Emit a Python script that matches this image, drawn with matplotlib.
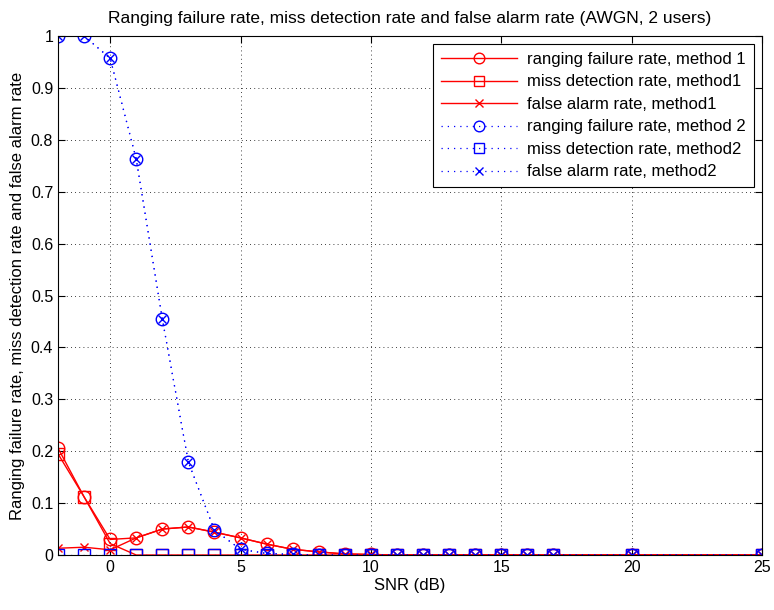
import matplotlib
matplotlib.use('Agg')
import matplotlib.pyplot as plt
import numpy as np

plt.rcParams['font.family'] = ['Liberation Sans', 'DejaVu Sans']

# SNR points (dB)
snr = [-2, -1, 0, 1, 2, 3, 4, 5, 6, 7, 8, 9, 10, 11, 12, 13, 14, 15, 16, 17, 20, 25]

# method 1
rfr_m1 = [0.206, 0.112, 0.030, 0.033, 0.050, 0.054, 0.044, 0.033, 0.021, 0.011, 0.006, 0.002,
          0.001, 0, 0, 0, 0, 0, 0, 0, 0, 0]
mdr_m1 = [0.195, 0.112, 0.022, 0, 0, 0, 0, 0, 0, 0, 0, 0,
          0, 0, 0, 0, 0, 0, 0, 0, 0, 0]
far_m1 = [0.013, 0.015, 0.010, 0.033, 0.050, 0.054, 0.044, 0.033, 0.021, 0.011, 0.006, 0.002,
          0.001, 0, 0, 0, 0, 0, 0, 0, 0, 0]

# method 2
rfr_m2 = [1.0, 1.0, 0.957, 0.763, 0.455, 0.179, 0.048, 0.011, 0.003, 0.001, 0, 0,
          0, 0, 0, 0, 0, 0, 0, 0, 0, 0]
mdr_m2 = [0] * len(snr)
far_m2 = [1.0, 1.0, 0.957, 0.763, 0.455, 0.179, 0.048, 0.011, 0.003, 0.001, 0, 0,
          0, 0, 0, 0, 0, 0, 0, 0, 0, 0]

fig = plt.figure(figsize=(7.74, 6.10), dpi=100)
ax = fig.add_axes([58 / 774, 55 / 610, 704 / 774, 519 / 610])

ms = 9
dots = (0, (1, 4))
ax.plot(snr, rfr_m1, '-', color='red', marker='o', mfc='none', ms=ms, lw=1,
        label='ranging failure rate, method 1')
ax.plot(snr, mdr_m1, '-', color='red', marker='s', mfc='none', ms=ms - 1, lw=1,
        label='miss detection rate, method1')
ax.plot(snr, far_m1, '-', color='red', marker='x', ms=ms - 3, lw=1,
        label='false alarm rate, method1')
ax.plot(snr, rfr_m2, linestyle=dots, color='blue', marker='o', mfc='none', ms=ms, lw=0.9,
        label='ranging failure rate, method 2')
ax.plot(snr, mdr_m2, linestyle=dots, color='blue', marker='s', mfc='none', ms=ms - 1, lw=0.9,
        label='miss detection rate, method2')
ax.plot(snr, far_m2, linestyle=dots, color='blue', marker='x', ms=ms - 3, lw=0.9,
        label='false alarm rate, method2')

ax.set_xlim(-2, 25)
ax.set_ylim(0, 1)
ax.set_xticks([0, 5, 10, 15, 20, 25])
ax.set_yticks(np.arange(0, 1.01, 0.1))
ax.set_yticklabels(['0', '0.1', '0.2', '0.3', '0.4', '0.5', '0.6', '0.7', '0.8', '0.9', '1'])
ax.tick_params(direction='in', labelsize=11.5, top=True, right=True, length=5)
ax.grid(True, linestyle=(0, (1, 4)), color='black', lw=0.6)
for s in ax.spines.values():
    s.set_linewidth(0.8)

ax.set_title('Ranging failure rate, miss detection rate and false alarm rate (AWGN, 2 users)',
             fontsize=12.5, pad=9)
ax.set_xlabel('SNR (dB)', fontsize=12, labelpad=2)
ax.set_ylabel('Ranging failure rate, miss detection rate and false alarm rate', fontsize=12,
              labelpad=4)

leg = ax.legend(loc='upper right', fontsize=12, fancybox=False, edgecolor='black',
                framealpha=1, borderaxespad=0.5, handlelength=4.6, handletextpad=0.6,
                labelspacing=0.45, borderpad=0.45, markerscale=0.85)
leg.get_frame().set_linewidth(0.8)

fig.savefig('out.png', dpi=100)
